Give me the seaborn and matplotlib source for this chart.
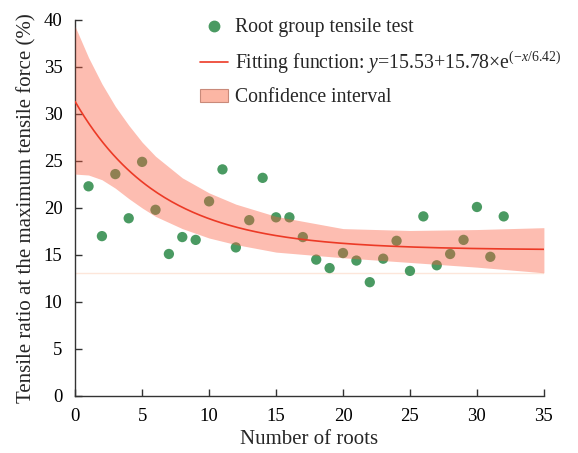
import numpy as np
import pandas as pd
import matplotlib
matplotlib.use("Agg")
import matplotlib.pyplot as plt
import seaborn as sns
from matplotlib.patches import Patch
from matplotlib.lines import Line2D

# ---- data ----
roots = [1, 2, 3, 4, 5, 6, 7, 8, 9, 10, 11, 12, 13, 14, 15, 16,
         17, 18, 19, 20, 21, 22, 23, 24, 25, 26, 27, 28, 29, 30, 31, 32]
ratio = [22.3, 17.0, 23.6, 18.9, 24.9, 19.8, 15.1, 16.9, 16.6, 20.7, 24.1, 15.8,
         18.7, 23.2, 19.0, 19.0, 16.9, 14.5, 13.6, 15.2, 14.4, 12.1, 14.6, 16.5,
         13.3, 19.1, 13.9, 15.1, 16.6, 20.1, 14.8, 19.1]

# fitted model parameters (from legend)
fit_a, fit_b, fit_t = 15.53, 15.78, 6.42

# confidence band edges
band_x = [0, 1, 2, 3, 4, 5, 6, 8, 10, 12, 15, 20, 25, 30, 35]
band_upper = [39.3, 36.0, 33.2, 30.8, 28.8, 27.0, 25.5, 23.2, 21.6, 20.4, 19.1, 17.8, 17.6, 17.7, 17.9]
band_lower = [23.6, 23.5, 23.0, 22.1, 21.0, 20.0, 19.1, 17.8, 16.8, 16.1, 15.3, 14.7, 14.2, 13.7, 13.1]

x_ticks = [0, 5, 10, 15, 20, 25, 30, 35]
y_ticks = [0, 5, 10, 15, 20, 25, 30, 35, 40]

sns.set_theme(style="ticks")
plt.rcParams["font.family"] = ["Liberation Serif", "DejaVu Serif"]
plt.rcParams["mathtext.fontset"] = "custom"
plt.rcParams["mathtext.rm"] = "Liberation Serif"
plt.rcParams["mathtext.it"] = "Liberation Serif:italic"

fig = plt.figure(figsize=(5.78, 4.53), dpi=100)
ax = fig.add_axes([0.13, 0.126, 0.811, 0.830])

df = pd.DataFrame({"x": roots, "y": ratio})
green = "#4a9a62"
sns.scatterplot(data=df, x="x", y="y", ax=ax, color=green, s=55,
                edgecolor="none", zorder=2, legend=False)

# band drawn over points (semi-transparent)
ax.plot([0, 35], [band_lower[-1], band_lower[-1]], color="#fde6da", lw=1.0, zorder=1)
ax.fill_between(band_x, band_lower, band_upper, color="#fa5a3c", alpha=0.4,
                linewidth=0, zorder=3)

xf = np.linspace(0, 35, 200)
fit_df = pd.DataFrame({"x": xf, "y": fit_a + fit_b * np.exp(-xf / fit_t)})
sns.lineplot(data=fit_df, x="x", y="y", ax=ax, color="#ec3a26", lw=1.2, zorder=4)

ax.set_xlim(0, 35)
ax.set_ylim(0, 40)
ax.set_xticks(x_ticks)
ax.set_yticks(y_ticks)
ax.tick_params(direction="in", length=5, width=1, labelsize=13.5, colors="#333333",
               labelcolor="black")
ax.tick_params(axis="y", pad=9)
ax.tick_params(axis="x", pad=9)
for s in ["top", "right"]:
    ax.spines[s].set_visible(False)
for s in ["left", "bottom"]:
    ax.spines[s].set_color("#333333")
    ax.spines[s].set_linewidth(1.0)
ax.set_xlabel("Number of roots", fontsize=15, labelpad=3)
ax.set_ylabel("Tensile ratio at the maximum tensile force (%)", fontsize=15, labelpad=5)

handles = [
    Line2D([], [], marker="o", color=green, linestyle="none", markersize=7.5),
    Line2D([], [], color="#ec3a26", lw=1.2),
    Patch(facecolor="#fcb6a4", edgecolor="#c98a7a", lw=0.8),
]
labels = [
    "Root group tensile test",
    r"Fitting function: $\mathit{y}$=15.53+15.78×e$^{(-\mathit{x}/6.42)}$",
    "Confidence interval",
]
ax.legend(handles, labels, loc="upper left", bbox_to_anchor=(0.25, 1.025),
          frameon=False, fontsize=14.2, handlelength=1.42, handletextpad=0.35,
          labelspacing=0.62, borderaxespad=0)

fig.savefig("out.png", dpi=100)
